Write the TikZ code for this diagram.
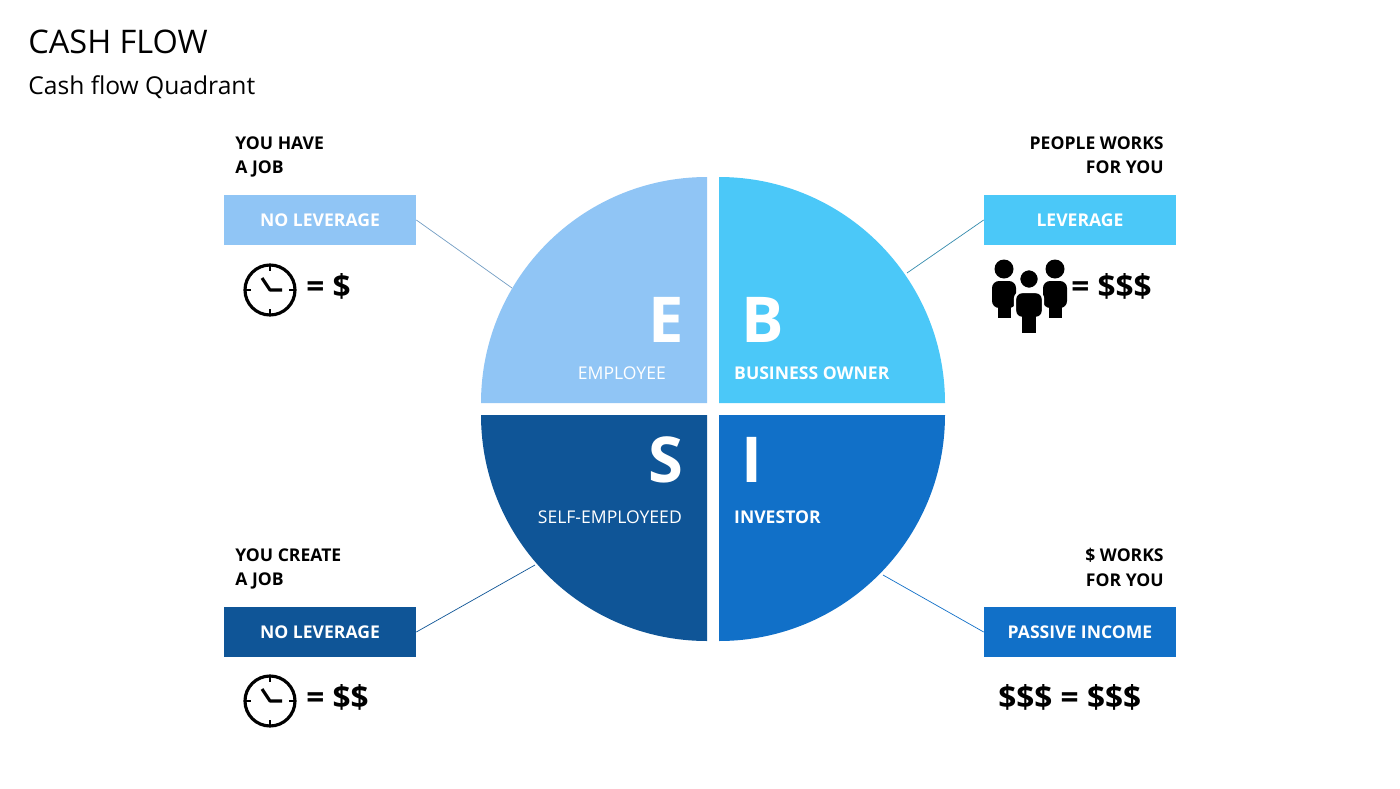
\documentclass[tikz,border=0pt]{standalone}
\usepackage{fontspec}
\setmainfont{Open Sans}
\definecolor{eblue}{HTML}{90C5F5}
\definecolor{bblue}{HTML}{4BC8F8}
\definecolor{sblue}{HTML}{0F5597}
\definecolor{iblue}{HTML}{1170C8}
\begin{document}
\begin{tikzpicture}[x=0.02cm,y=-0.02cm,
    quad/.style={font={\fontsize{10}{12}\selectfont}, text=white},
    big/.style={font={\fontsize{36}{40}\selectfont\bfseries}, text=white},
    lever/.style={minimum width=3.84cm, minimum height=1cm, inner sep=0pt,
        text=white, font={\fontsize{10}{12}\selectfont\bfseries}},
    head/.style={font={\fontsize{10}{14}\selectfont\bfseries}, inner sep=0pt},
    eq/.style={font={\fontsize{18}{22}\selectfont\bfseries}, inner sep=0pt},
    link/.style={line width=0.4pt},
    ]
    % Canvas
    \useasboundingbox[fill=white] (0,0) rectangle (1400,788);

    % Title
    \node[anchor=west, inner sep=0pt, font={\fontsize{18.5}{22}\selectfont}] (title) at (28,42) {CASH FLOW};
    \node[anchor=west, inner sep=0pt, font={\fontsize{14}{17}\selectfont}] (subtitle) at (28,87) {Cash flow Quadrant};

    % Quadrants
    \fill[eblue] (707,403) -- (481,403) arc[start angle=180, end angle=270, radius=226] -- cycle;
    \fill[bblue] (719,403) -- (719,177) arc[start angle=270, end angle=360, radius=226] -- cycle;
    \fill[sblue] (707,415) -- (481,415) arc[start angle=180, end angle=90, radius=226] -- cycle;
    \fill[iblue] (719,415) -- (945,415) arc[start angle=0, end angle=90, radius=226] -- cycle;

    % Letters and labels
    \node[big, anchor=east] (E) at (690,320) {E};
    \node[big, anchor=west] (B) at (735,320) {B};
    \node[big, anchor=east] (S) at (690,460) {S};
    \node[big, anchor=west] (I) at (735,460) {I};
    \node[quad, anchor=east] (employee) at (672,373) {EMPLOYEE};
    \node[quad, anchor=west, font={\fontsize{10}{12}\selectfont\bfseries}] (owner) at (728,373) {BUSINESS OWNER};
    \node[quad, anchor=east] (selfemp) at (688,517) {SELF-EMPLOYEED};
    \node[quad, anchor=west, font={\fontsize{10}{12}\selectfont\bfseries}] (investor) at (728,517) {INVESTOR};

    % Side boxes
    \node[lever, fill=eblue] (nolevA) at (320,220) {NO LEVERAGE};
    \node[lever, fill=bblue] (lev) at (1080,220) {LEVERAGE};
    \node[lever, fill=sblue] (nolevB) at (320,632) {NO LEVERAGE};
    \node[lever, fill=iblue] (passive) at (1080,632) {PASSIVE INCOME};

    % Connectors
    \coordinate (cE) at (512,288);
    \coordinate (cB) at (907,273);
    \coordinate (cS) at (535,565);
    \coordinate (cI) at (883,575);
    \draw[link, eblue!80!black] (nolevA.east) -- (cE);
    \draw[link, bblue!70!black] (lev.west) -- (cB);
    \draw[link, sblue] (nolevB.east) -- (cS);
    \draw[link, iblue] (passive.west) -- (cI);

    % Headings
    \node[head, anchor=north west, align=left] (haveA) at (235,136) {YOU HAVE\\A JOB};
    \node[head, anchor=north east, align=right] (people) at (1164,136) {PEOPLE WORKS\\FOR YOU};
    \node[head, anchor=north west, align=left] (create) at (235,548) {YOU CREATE\\A JOB};
    \node[head, anchor=north east, align=right] (works) at (1164,548) {\$ WORKS\\FOR YOU};

    % Clocks
    \foreach \cy in {290,701}{
        \draw[line width=1.8pt] (270,\cy) circle[radius=25];
        \foreach \a in {0,90,180,270}
            \draw[line width=1.5pt] (270,\cy) ++(\a:25) -- ++(\a+180:6);
        \draw[line width=1.8pt, line join=round]
            (262,\cy-12) -- (270,\cy) -- (282,\cy);
    }
    \node[eq, anchor=west] (payA) at (306,286) {= \$};
    \node[eq, anchor=west] (payB) at (306,697) {= \$\$};

    % People
    \foreach \px in {1004,1055}{
        \fill (\px,269) circle[radius=9.5];
        \fill[rounded corners=4pt] (\px-12,281) rectangle (\px+12,308);
        \fill (\px-6.5,300) rectangle (\px+6.5,318);
    }
    \fill[draw=white, line width=1.4pt] (1029,279) circle[radius=10];
    \fill[draw=white, line width=1.4pt, rounded corners=4pt] (1015,292) rectangle (1043,318);
    \fill (1022,312) rectangle (1036,333);
    \node[eq, anchor=west] (payC) at (1071,286) {= \$\$\$};
    \node[eq, anchor=west] (payD) at (998,697) {\$\$\$ = \$\$\$};
\end{tikzpicture}
\end{document}
